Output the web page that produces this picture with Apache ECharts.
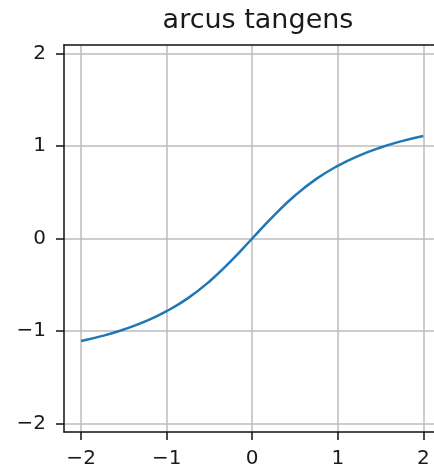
<!DOCTYPE html>
<html>
<head>
<meta charset="utf-8">
<script src="https://cdn.jsdelivr.net/npm/echarts@6/dist/echarts.min.js"></script>
<style>
  html, body { margin: 0; padding: 0; background: #fff; }
  #chart { width: 434px; height: 474px; }
</style>
</head>
<body>
<div id="chart"></div>
<script>
// Sampled points of the arctan curve
const xValues = [-2, -1.75, -1.5, -1.25, -1, -0.75, -0.5, -0.25, 0, 0.25, 0.5, 0.75, 1, 1.25, 1.5, 1.75, 2];
const yValues = [-1.107, -1.052, -0.983, -0.896, -0.785, -0.644, -0.464, -0.245, 0, 0.245, 0.464, 0.644, 0.785, 0.896, 0.983, 1.052, 1.107];
const xTicks = [-2, -1, 0, 1, 2];
const yTicks = [-2, -1, 0, 1, 2];

const minus = v => String(v).replace('-', '\u2212');
const font = 'DejaVu Sans';
const spine = { color: '#111', width: 1.5 };

const chart = echarts.init(document.getElementById('chart'));
chart.setOption({
  animation: false,
  title: {
    text: 'arcus tangens',
    left: 253,
    top: 2,
    textAlign: 'center',
    textStyle: { fontFamily: font, fontSize: 27, fontWeight: 'normal', color: '#1a1a1a' }
  },
  grid: { left: 64, right: 0, top: 45, bottom: 42 },
  xAxis: [{
    type: 'value', min: -2.2, max: 2.125,
    axisLine: { show: true, onZero: false, lineStyle: spine },
    axisTick: { show: true, customValues: xTicks, length: 8, lineStyle: spine },
    axisLabel: { customValues: xTicks, formatter: minus, fontFamily: font, fontSize: 20, color: '#1a1a1a', margin: 17 },
    splitLine: { show: true, lineStyle: { color: '#bdbdbd', width: 1.5 } }
  }, {
    // top spine
    type: 'value', position: 'top', min: -2.2, max: 2.125,
    axisLine: { show: true, onZero: false, lineStyle: spine },
    axisTick: { show: false }, axisLabel: { show: false }, splitLine: { show: false }
  }],
  yAxis: {
    type: 'value', min: -2.09, max: 2.09,
    axisLine: { show: true, onZero: false, lineStyle: spine },
    axisTick: { show: true, customValues: yTicks, length: 8, lineStyle: spine },
    axisLabel: { customValues: yTicks, formatter: minus, fontFamily: font, fontSize: 20, color: '#1a1a1a', margin: 18 },
    splitLine: { show: true, lineStyle: { color: '#bdbdbd', width: 1.5 } }
  },
  series: [{
    type: 'line',
    data: xValues.map((x, i) => [x, yValues[i]]),
    smooth: true,
    showSymbol: false,
    lineStyle: { color: '#1f77b4', width: 2.5 }
  }]
});
</script>
</body>
</html>
